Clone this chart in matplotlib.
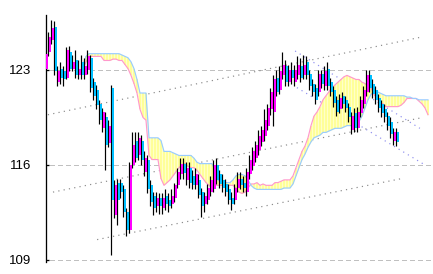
import matplotlib
matplotlib.use('Agg')
import matplotlib.pyplot as plt
from matplotlib import font_manager
import numpy as np

# ---------------- data (prices) ----------------
opens = [123.1,124.3,125.2,126.2,122.1,123.1,122.9,122.4,124.3,123.1,
         123.7,122.6,123.6,122.6,123.0,123.9,122.1,121.5,120.5,118.7,
         119.5,117.6,121.7,112.3,114.7,114.7,114.2,112.5,111.2,116.0,
         117.8,116.7,117.8,115.5,116.4,114.5,113.7,113.0,113.6,112.8,
         113.7,113.4,113.1,113.6,114.5,115.3,116.1,114.9,115.8,115.2,
         114.5,114.9,114.0,113.1,113.4,114.0,114.2,116.0,115.3,114.9,
         114.6,114.2,113.6,113.4,114.3,115.0,114.7,114.0,115.3,115.9,
         116.5,117.1,117.7,118.1,118.9,120.1,119.9,122.4,121.5,122.6,
         123.3,122.1,123.0,122.1,122.6,123.3,122.6,123.6,122.7,122.0,
         121.7,121.4,122.7,121.8,123.1,122.1,121.5,120.8,120.1,121.1,
         120.8,120.3,118.6,119.8,118.7,119.8,120.5,121.4,122.6,122.0,
         121.5,120.9,120.5,120.1,119.6,119.2,117.8,118.4]
closes = [124.2,125.4,126.1,122.9,122.9,122.4,122.3,124.5,123.1,123.6,
          122.6,123.1,122.6,123.3,124.0,121.7,121.1,120.4,119.3,119.9,
          117.5,118.9,113.4,114.5,113.4,114.0,112.5,111.2,116.0,117.5,
          116.5,118.0,116.4,116.5,114.2,113.3,112.8,113.6,113.0,113.6,
          113.1,113.0,113.7,114.5,115.5,116.1,115.4,115.8,114.7,114.5,
          115.3,113.8,113.0,113.7,114.3,114.9,116.0,114.9,114.6,114.3,
          114.0,113.4,113.1,114.3,115.0,114.5,114.3,115.5,116.4,117.0,
          117.5,118.1,118.6,119.3,120.2,121.4,122.3,121.4,122.9,123.4,
          122.1,123.0,122.4,123.0,123.4,122.4,123.4,122.6,121.8,121.4,
          120.8,122.7,122.0,122.9,121.8,121.4,120.6,119.9,120.9,120.5,
          120.2,119.5,119.6,118.7,119.9,120.8,121.5,122.6,121.7,121.2,
          120.8,120.2,119.8,119.5,118.9,118.3,118.4,117.7]
highs = [124.8,125.8,126.7,126.6,123.3,123.6,123.3,124.7,124.8,124.1,
         124.5,123.7,124.1,123.9,124.5,124.1,122.4,121.9,120.8,120.2,
         119.9,119.3,121.9,114.9,115.0,115.0,114.5,112.8,116.2,118.4,
         118.4,118.4,118.2,117.0,116.7,114.9,114.0,114.0,113.9,113.9,
         114.2,113.9,114.2,114.7,115.8,116.5,116.5,116.2,116.2,115.6,
         115.8,115.3,114.3,114.0,114.6,115.2,116.4,116.5,115.6,115.3,
         115.0,114.6,114.0,114.6,115.5,115.5,115.2,115.8,116.7,117.3,
         117.8,118.6,118.9,120.1,120.5,121.7,122.6,123.0,123.3,124.3,
         123.7,123.4,123.6,123.4,124.0,123.9,124.1,124.0,123.0,122.3,
         122.0,123.0,123.0,123.3,123.6,122.4,121.8,121.1,121.2,121.4,
         121.1,120.6,119.9,120.2,120.3,121.1,121.8,123.0,123.0,122.3,
         121.8,121.2,120.8,120.5,119.9,119.5,118.7,118.7]
lows = [122.9,124.0,124.9,122.6,121.8,122.0,121.8,122.3,122.9,122.9,
        122.4,122.3,122.3,122.3,122.7,121.4,120.8,120.1,119.0,118.4,
        115.6,117.3,109.4,112.1,111.6,113.6,112.2,110.8,111.0,115.8,
        116.2,116.4,116.0,115.2,113.9,113.0,112.3,112.5,112.4,112.4,
        112.7,112.5,112.8,113.3,114.3,115.0,115.0,114.5,114.3,114.2,
        114.2,113.6,112.2,112.5,113.1,113.7,114.0,114.6,114.3,114.0,
        113.7,113.1,112.7,113.1,114.0,114.2,114.0,113.7,115.0,115.6,
        116.2,116.7,117.4,117.8,118.6,119.7,118.9,121.1,121.2,122.3,
        121.8,121.8,122.0,121.8,122.3,122.1,122.3,122.3,121.5,121.1,
        120.5,121.1,121.7,121.5,121.5,121.1,120.3,119.6,119.8,120.2,
        119.9,119.2,118.3,118.4,118.4,119.5,120.2,121.1,121.4,120.9,
        120.5,119.9,119.5,119.2,118.6,118.0,117.5,117.4]

cloud_start = 12
span_a = [123.1,123.6,124.0,124.0,124.0,124.0,124.0,123.7,123.7,123.7,
          123.8,123.8,123.7,123.7,123.4,123.1,122.6,122.0,121.3,120.1,
          119.5,119.3,116.7,116.4,116.4,116.4,115.0,114.5,114.7,114.9,
          115.2,115.5,115.8,116.0,116.1,115.9,115.8,115.8,115.6,115.3,
          115.0,114.7,114.5,114.3,114.5,114.5,114.5,114.5,114.5,114.5,
          114.5,114.3,114.0,113.9,114.0,114.3,114.6,114.6,114.7,114.5,
          114.6,114.5,114.5,114.5,114.7,114.7,114.8,114.9,114.9,114.9,
          115.2,115.8,116.4,117.0,117.4,118.0,118.9,119.6,119.9,120.3,
          120.8,121.1,121.4,121.7,121.9,122.1,122.3,122.5,122.6,122.5,
          122.4,122.3,122.3,122.1,122.0,121.8,121.7,121.2,120.9,120.6,
          120.5,120.3,120.3,120.3,120.3,120.3,120.4,120.6,120.9,120.9,
          120.9,120.9,120.7,120.5,120.2,119.7]
span_b = [123.4,124.0,124.2,124.2,124.2,124.2,124.2,124.2,124.2,124.2,
          124.2,124.2,124.2,124.1,124.0,123.9,123.6,123.1,122.3,121.3,
          121.3,121.3,118.0,118.0,118.0,118.0,117.8,117.0,117.0,117.0,
          116.9,116.8,116.7,116.7,116.7,116.7,116.7,116.5,116.2,116.1,
          116.1,116.1,116.1,116.1,115.6,114.9,114.7,114.7,114.7,114.7,
          114.9,115.2,115.3,115.3,115.2,114.9,114.5,114.3,114.2,114.2,
          114.2,114.2,114.2,114.2,114.2,114.2,114.2,114.3,114.3,114.3,
          114.6,115.2,115.8,116.4,116.8,117.3,117.7,118.0,118.1,118.2,
          118.4,118.4,118.5,118.6,118.7,118.7,118.7,118.8,118.9,118.9,
          118.9,119.0,119.2,119.6,120.2,120.8,121.2,121.4,121.4,121.3,
          121.2,121.1,121.1,121.1,121.1,121.1,121.1,121.1,121.0,121.0,
          120.9,120.9,120.8,120.8,120.8,120.8]

# trend channel lines (bar index, price)
gray_upper_x, gray_upper_y = [0.3, 124.3], [119.7, 125.4]
gray_mid_x, gray_mid_y = [2.0, 125.3], [114.0, 119.5]
gray_low_x, gray_low_y = [16.7, 118.3], [110.5, 115.0]
blue_a_x, blue_a_y = [82.7, 124.3], [124.4, 118.7]
blue_b_x, blue_b_y = [83.3, 126.0], [121.7, 116.0]

yticks = [109, 116, 123]
ytick_labels = ['109', '116', '123']

# ---------------- figure ----------------
names = {f.name for f in font_manager.fontManager.ttflist}
fam = ['Liberation Sans Narrow'] if 'Liberation Sans Narrow' in names else ['Liberation Sans']
plt.rcParams['font.family'] = fam + ['DejaVu Sans']

W, H = 433, 274
fig = plt.figure(figsize=(W / 100, H / 100), dpi=100)
ax = fig.add_axes([46 / W, 12 / H, (W - 46) / W, 247 / H])
ax.set_xlim(-0.33, 128.67)
ax.set_ylim(108.85, 127.05)

px = 0.72  # one pixel in points

# grid
for yv in yticks:
    ax.axhline(yv, xmin=4 / 387, xmax=1, color='#c0c0c0', lw=px,
               dashes=(5, 3), zorder=1, antialiased=False)

# channel lines
dot = (0, (1, 3.5))
for xs, ys in [(gray_upper_x, gray_upper_y), (gray_mid_x, gray_mid_y), (gray_low_x, gray_low_y)]:
    ax.plot(xs, ys, color='#8c8c8c', lw=px * 1.2, linestyle=dot, zorder=2)
for xs, ys in [(blue_a_x, blue_a_y), (blue_b_x, blue_b_y)]:
    ax.plot(xs, ys, color='#8f8fee', lw=px * 1.2, linestyle=dot, zorder=2)

# ichimoku cloud
xc = np.arange(len(span_a)) + cloud_start
a = np.array(span_a)
b = np.array(span_b)
ax.fill_between(xc, a, b, color='#ffffcc', lw=0, zorder=3)
ax.vlines(xc, np.minimum(a, b), np.maximum(a, b), color='#ffff99', lw=1.45, zorder=3.1)
ax.plot(xc, a, color='#ff99cc', lw=0.85, zorder=4)
ax.plot(xc, b, color='#99ccff', lw=0.85, zorder=4)

# candles
o = np.array(opens); c = np.array(closes)
hi = np.array(highs); lo = np.array(lows)
xi = np.arange(len(o))
ax.vlines(xi - 0.5, lo, hi, color='black', lw=px * 1.2, zorder=5)
up = c >= o
colors = np.where(up, '#ff00ff', '#00bfff')
bottoms = np.minimum(o, c)
heights = np.maximum(np.abs(c - o), 0.08)
ax.bar(xi, heights, bottom=bottoms, width=0.9, color=colors, lw=0, zorder=6)

# axes styling
for s in ['top', 'right', 'bottom']:
    ax.spines[s].set_visible(False)
ax.spines['left'].set_color('black')
ax.spines['left'].set_linewidth(px * 1.3)
ax.set_xticks([])
ax.set_yticks(yticks)
ax.set_yticklabels(ytick_labels)
ax.tick_params(axis='y', direction='in', length=2.4, width=px * 1.3,
               pad=10.5, labelsize=9.5, colors='black')

fig.savefig('out.png', dpi=100)
